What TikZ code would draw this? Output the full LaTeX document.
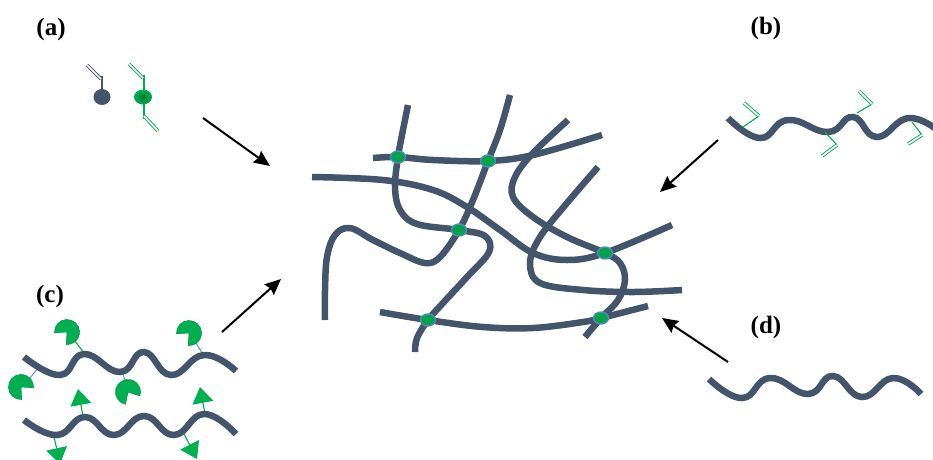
\documentclass[tikz,border=0pt]{standalone}
\usepackage{fontspec}
\setmainfont{Liberation Serif}
\usetikzlibrary{arrows.meta,shapes.geometric}
\definecolor{slate}{HTML}{44546A}
\definecolor{leaf}{HTML}{00B050}
\definecolor{linkblue}{HTML}{5B9BD5}
\newcommand\pacman[2]{\fill[leaf,draw=leaf!85!black,line width=0.6pt] (#1) -- ++(#2+42:12.5) arc[start angle=#2+42, end angle=#2+318, radius=12.5] -- cycle;}

\begin{document}
\begin{tikzpicture}[x=1pt,y=-1pt,
  strand/.style={slate,line width=6.5pt},
  bond/.style={line width=0.9pt,double distance=1.7pt},
  tether/.style={line width=1.1pt},
  feed/.style={black,line width=2pt,-{Stealth[length=16pt,width=14pt,inset=2pt]}},
  xlink/.style={ellipse,draw=linkblue!90!black,line width=1.4pt,fill=leaf!92!black,minimum width=15pt,minimum height=12pt,inner sep=0pt},
  tag/.style={font=\fontsize{25}{27}\selectfont\bfseries}]
  \useasboundingbox (0,0) rectangle (933,459);

  \node[tag] (la) at (51,29) {(a)};
  \node[tag] (lb) at (766,28) {(b)};
  \node[tag] (lc) at (50,296) {(c)};
  \node[tag] (ld) at (766,327) {(d)};

  % (a) monomer and crosslinker
  \draw[slate,line width=1.4pt] (102,76) -- (102,90);
  \draw[bond,slate] (101,79) -- (87,65);
  \fill[slate] (102,97) ellipse[x radius=8.5, y radius=8];
  \draw[leaf,line width=1.4pt] (144,75) -- (144,119);
  \draw[bond,leaf] (143,78) -- (129,64);
  \draw[bond,leaf] (144,116) -- (158,131);
  \shade[inner color=leaf!70!black,outer color=leaf] (143,97) ellipse[x radius=9, y radius=7.5];

  % (b) chain with pendant double bonds
  \draw[strand] plot[smooth,tension=0.8] coordinates {(728,118) (760,138) (788,120) (828,132) (853,117) (877,137) (910,118) (945,136)};
  \draw[leaf,line width=1.1pt] (743,127) -- (759,116);
  \draw[bond,leaf] (759,116) -- (744,103);
  \draw[leaf,line width=1.1pt] (825,132) -- (837,145);
  \draw[bond,leaf] (837,145) -- (822,156);
  \draw[leaf,line width=1.1pt] (857,113) -- (872,104);
  \draw[bond,leaf] (872,104) -- (859,91);
  \draw[leaf,line width=1.1pt] (912,122) -- (922,135);
  \draw[bond,leaf] (922,135) -- (908,144);

  % (c) host and guest chains
  \draw[leaf,tether] (84,353) -- (75,341);
  \draw[linkblue,tether] (204,356) -- (196,343);
  \draw[linkblue,tether] (38,368) -- (30,378);
  \draw[linkblue,tether] (122,371) -- (125,381);
  \pacman{67,332}{135}
  \pacman{189,333}{135}
  \pacman{21,387}{45}
  \pacman{128,392}{60}
  \draw[strand] plot[smooth,tension=0.8] coordinates {(24,357) (60,375) (84,354) (120,372) (144,352) (171,375) (204,355) (236,371)};
  \draw[leaf,tether,-{Triangle[length=16pt,width=21pt]}] (83,416) -- (78,389);
  \draw[leaf,tether,-{Triangle[length=16pt,width=21pt]}] (205,414) -- (200,387);
  \draw[leaf,tether,-{Triangle[length=16pt,width=21pt]}] (53,432) -- (60,464);
  \draw[leaf,tether,-{Triangle[length=16pt,width=21pt]}] (183,432) -- (197,459);
  \draw[strand] plot[smooth,tension=0.8] coordinates {(24,420) (57,435) (85,417) (114,435) (144,416) (174,435) (204,414) (236,434)};

  % (d) plain chain
  \draw[strand] plot[smooth,tension=0.8] coordinates {(709,379) (742,398) (770,378) (808,394) (833,376) (862,397) (893,378) (921,394)};

  % network
  \draw[strand] plot[smooth,tension=0.6] coordinates {(408,105) (402,135) (398,157) (395,187) (400,210) (417,224) (459,230) (485,236) (489,252) (467,277) (443,303) (428,320) (417,338) (415,352)};
  \draw[strand] plot[smooth,tension=0.6] coordinates {(510,95) (500,130) (488,161) (473,200) (459,230) (440,257) (425,263) (400,253) (373,240) (350,228) (335,235) (327,257) (325,290) (325,320)};
  \draw[strand] plot[smooth,tension=0.6] coordinates {(373,158) (398,157) (433,160) (488,161) (533,155) (602,135)};
  \draw[strand] plot[smooth,tension=0.6] coordinates {(568,120) (533,153) (515,177) (513,197) (533,217) (567,237) (605,253) (620,263) (625,280) (618,300) (601,318) (585,337)};
  \draw[strand] plot[smooth,tension=0.6] coordinates {(312,177) (383,180) (433,190) (467,207) (500,230) (533,253) (567,260) (605,253) (672,225)};
  \draw[strand] plot[smooth,tension=0.6] coordinates {(598,167) (567,203) (540,237) (530,263) (540,283) (583,290) (633,292) (682,290)};
  \draw[strand] plot[smooth,tension=0.6] coordinates {(380,312) (428,320) (483,327) (533,328) (583,322) (601,318) (648,306)};

  \node[xlink] (x1) at (398,157) {};
  \node[xlink] (x2) at (488,161) {};
  \node[xlink] (x3) at (459,230) {};
  \node[xlink] (x4) at (605,253) {};
  \node[xlink] (x5) at (428,320) {};
  \node[xlink] (x6) at (601,318) {};

  % arrows into the network
  \coordinate (fa) at (203,118);
  \coordinate (ta) at (270,166);
  \coordinate (fb) at (718,140);
  \coordinate (tb) at (660,192);
  \coordinate (fc) at (222,332);
  \coordinate (tc) at (281,279);
  \coordinate (fd) at (728,362);
  \coordinate (td) at (662,318);
  \draw[feed] (fa) -- (ta);
  \draw[feed] (fb) -- (tb);
  \draw[feed] (fc) -- (tc);
  \draw[feed] (fd) -- (td);
\end{tikzpicture}
\end{document}
